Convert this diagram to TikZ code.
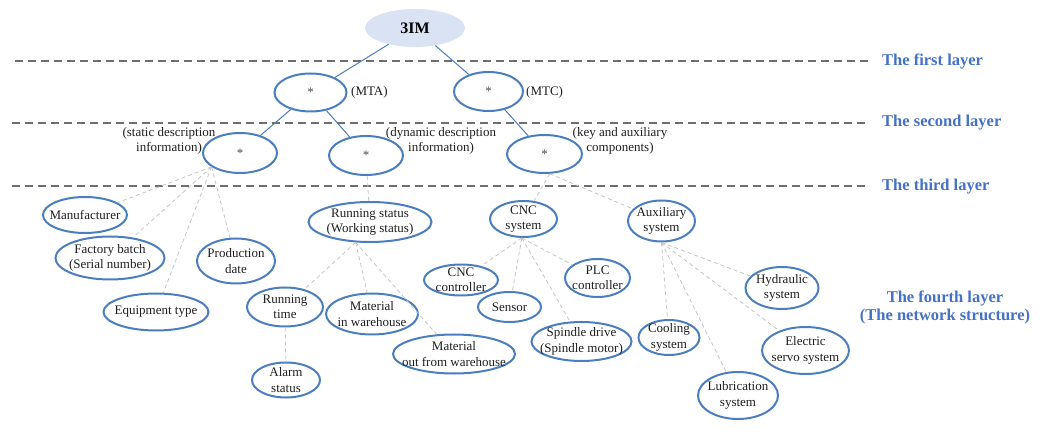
\documentclass[tikz,border=0pt]{standalone}
\usepackage{fontspec}
\setmainfont{Liberation Serif}
\usetikzlibrary{shapes.geometric}
\definecolor{nodeblue}{HTML}{4A7EBF}
\definecolor{layerblue}{HTML}{4472C4}
\definecolor{rootfill}{HTML}{DAE3F3}
\definecolor{sepgray}{HTML}{6E6E6E}
\definecolor{linkgray}{HTML}{C4C4C4}
\definecolor{inkgray}{HTML}{1E1E1E}

\tikzset{
  basefont/.style={font=\fontsize{13}{15.5}\selectfont, text=inkgray},
  oval/.style={ellipse, draw=nodeblue, line width=2pt, inner sep=0pt},
  dim/.style 2 args={minimum width=#1pt, minimum height=#2pt},
  txt/.style={label={[basefont, align=center, inner sep=0pt]center:{#1}}},
  star/.style={label={[basefont, inner sep=0pt, text=black!70]center:*}},
  note/.style={basefont, align=center, inner sep=0pt},
  layer/.style={font=\fontsize{16.5}{18}\selectfont\bfseries, text=layerblue, inner sep=0pt, align=center},
  sep/.style={draw=sepgray, line width=1.4pt, dash pattern=on 8pt off 5pt},
  tree/.style={draw=nodeblue, line width=1pt},
  link/.style={draw=linkgray, line width=0.8pt, dash pattern=on 4pt off 3pt}
}

\begin{document}
\begin{tikzpicture}[x=1pt,y=-1pt]
\useasboundingbox (0,0) rectangle (1047,438);

% layer captions and separators
\node[layer, anchor=west] (l1) at (882,61) {The first layer};
\node[layer, anchor=west] (l2) at (882,123) {The second layer};
\node[layer, anchor=west] (l3) at (882,187) {The third layer};
\node[layer] (l4) at (945,307) {The fourth layer\\(The network structure)};
\draw[sep] (15,61) -- (868,61);
\draw[sep] (12,123) -- (868,123);
\draw[sep] (12,186) -- (868,186);

% root
\node[ellipse, fill=rootfill, dim={100}{38}, font=\fontsize{16}{18}\selectfont\bfseries, text=black] (root) at (415,28) {3IM};

% first layer
\node[oval, star, dim={72}{38}] (mta) at (310.5,92.5) {};
\node[oval, star, dim={69}{39}] (mtc) at (488.5,91.5) {};
\node[note, anchor=west] (mta-l) at (351,92) {(MTA)};
\node[note, anchor=west] (mtc-l) at (526,92) {(MTC)};

% second layer
\node[oval, star, dim={74}{40}] (static) at (240,153) {};
\node[oval, star, dim={74}{39}] (dyn) at (366,155.5) {};
\node[oval, star, dim={75}{38}] (key) at (544.5,154) {};
\node[note] (static-l) at (169,141) {(static description\\information)};
\node[note] (dyn-l) at (441,141) {(dynamic description\\information)};
\node[note] (key-l) at (620,141) {(key and auxiliary\\components)};

% static description information
\node[oval, dim={84}{36}, txt={Manufacturer}] (manu) at (85,215) {};
\node[oval, dim={109}{43}, txt={Factory batch\\(Serial number)}] (batch) at (110,258) {};
\node[oval, dim={105}{37}, txt={Equipment type}] (etype) at (156,312) {};
\node[oval, dim={78}{45}, txt={Production\\date}] (pdate) at (236,261) {};

% dynamic description information
\node[oval, dim={123}{40}, txt={Running status\\(Working status)}] (rs) at (370,222) {};
\node[oval, dim={76}{39}, txt={Running\\time}] (rtime) at (285,307) {};
\node[oval, dim={92}{41}, txt={Material\\in warehouse}] (matin) at (372,314) {};
\node[oval, dim={122}{39}, txt={Material\\out from warehouse}] (matout) at (454,354) {};
\node[oval, dim={68}{35}, txt={Alarm\\status}] (alarm) at (286,380) {};

% key and auxiliary components
\node[oval, dim={67}{36}, txt={CNC\\system}] (cnc) at (523.5,219) {};
\node[oval, dim={67}{41}, txt={Auxiliary\\system}] (aux) at (661.5,221) {};
\node[oval, dim={74}{31}, txt={CNC\\controller}] (cncc) at (461,280) {};
\node[oval, dim={63}{30}, txt={Sensor}] (sensor) at (509.5,307) {};
\node[oval, dim={65}{38}, txt={PLC\\controller}] (plc) at (597.5,278) {};
\node[oval, dim={100}{39}, txt={Spindle drive\\(Spindle motor)}] (spindle) at (581.5,341.5) {};
\node[oval, dim={61}{35}, txt={Cooling\\system}] (cool) at (669,337.5) {};
\node[oval, dim={73}{42}, txt={Hydraulic\\system}] (hyd) at (782,288) {};
\node[oval, dim={87}{47}, txt={Electric\\servo system}] (servo) at (805.5,350.5) {};
\node[oval, dim={80}{47}, txt={Lubrication\\system}] (lub) at (738,395.5) {};

% solid tree links
\draw[tree] (root) -- (mta);
\draw[tree] (root) -- (mtc);
\draw[tree] (mta) -- (static);
\draw[tree] (mta) -- (dyn);
\draw[tree] (mtc) -- (key);

% dashed network links
\foreach \n in {manu,batch,etype,pdate} \draw[link] (static.206) -- (\n);
\draw[link] (dyn) -- (rs);
\foreach \n in {rtime,matin,matout} \draw[link] (rs.235) -- (\n);
\draw[link] (rtime) -- (alarm);
\draw[link] (key.285) -- (cnc);
\draw[link] (key.285) -- (aux);
\foreach \n in {cncc,sensor,plc,spindle} \draw[link] (cnc.265) -- (\n);
\foreach \n in {cool,lub,servo,hyd} \draw[link] (aux.south) -- (\n);
\end{tikzpicture}
\end{document}
